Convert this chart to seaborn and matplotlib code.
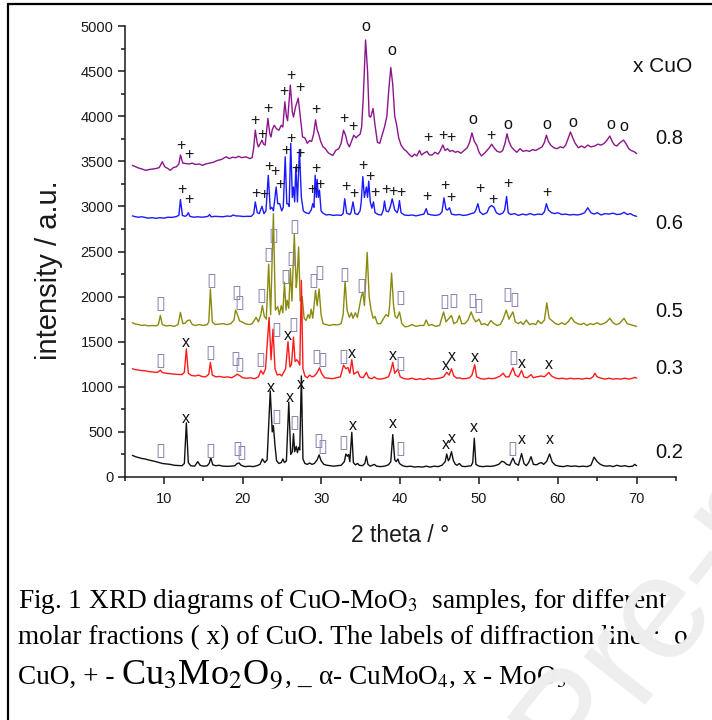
import matplotlib
matplotlib.use("Agg")
import matplotlib.pyplot as plt
from matplotlib.lines import Line2D
import numpy as np
import pandas as pd
import seaborn as sns

# ---------------------------------------------------------------------------
# XRD patterns (2 theta in degrees, intensity in a.u., already offset)
# ---------------------------------------------------------------------------
pattern_02 = [
    (6.0, 240), (6.4, 225), (6.8, 215), (7.2, 205), (7.6, 200), (8.0, 190), (8.5, 180), (9.0, 170),
    (9.4, 160), (9.8, 150), (10.3, 145), (10.8, 140), (11.3, 130), (11.8, 128), (12.3, 125), (12.6, 150),
    (12.85, 600), (13.1, 160), (13.4, 125), (13.9, 120), (14.3, 170), (14.6, 130), (15.0, 120), (15.5, 125),
    (15.75, 150), (15.95, 215), (16.2, 135), (16.6, 125), (17.0, 130), (17.5, 120), (18.0, 118), (18.5, 120),
    (19.0, 125), (19.3, 150), (19.55, 155), (19.8, 130), (20.3, 115), (20.8, 120), (21.3, 115), (21.8, 125),
    (22.2, 140), (22.5, 200), (22.8, 160), (23.1, 190), (23.5, 955), (23.75, 500), (23.9, 570), (24.1, 350),
    (24.3, 180), (24.6, 150), (24.9, 160), (25.1, 200), (25.3, 160), (25.55, 180), (25.85, 830), (26.1, 250),
    (26.3, 280), (26.45, 480), (26.6, 280), (26.8, 340), (26.95, 270), (27.1, 330), (27.25, 300), (27.45, 1120),
    (27.65, 200), (27.9, 150), (28.2, 140), (28.5, 155), (28.8, 140), (29.1, 150), (29.45, 190), (29.7, 245),
    (29.95, 180), (30.3, 140), (30.7, 130), (31.1, 125), (31.5, 120), (32.0, 125), (32.5, 130), (32.9, 170),
    (33.1, 255), (33.3, 230), (33.45, 250), (33.6, 170), (33.85, 495), (34.05, 160), (34.3, 135), (34.6, 150),
    (34.8, 130), (35.2, 125), (35.5, 150), (35.7, 230), (35.9, 140), (36.2, 120), (36.7, 140), (37.0, 120),
    (37.5, 115), (38.0, 120), (38.5, 135), (38.8, 170), (39.05, 470), (39.3, 190), (39.5, 170), (39.7, 200),
    (39.9, 150), (40.3, 125), (40.8, 115), (41.3, 120), (41.8, 110), (42.3, 115), (42.8, 110), (43.3, 120),
    (43.8, 110), (44.3, 120), (44.8, 115), (45.3, 130), (45.7, 170), (45.9, 255), (46.1, 180), (46.25, 200),
    (46.5, 280), (46.75, 180), (47.0, 140), (47.2, 130), (47.5, 150), (47.8, 120), (48.2, 115), (48.6, 120),
    (49.0, 125), (49.2, 160), (49.4, 430), (49.6, 140), (50.0, 120), (50.5, 115), (51.0, 120), (51.5, 118),
    (52.0, 125), (52.5, 140), (52.9, 175), (53.2, 165), (53.5, 140), (53.9, 130), (54.3, 210), (54.6, 150),
    (55.0, 130), (55.4, 260), (55.7, 150), (56.0, 125), (56.3, 160), (56.6, 225), (56.9, 140), (57.3, 135),
    (57.6, 150), (57.9, 160), (58.2, 140), (58.6, 175), (58.95, 255), (59.3, 165), (59.7, 130), (60.2, 120),
    (60.7, 115), (61.2, 125), (61.7, 118), (62.2, 122), (62.7, 115), (63.2, 120), (63.7, 115), (64.2, 130),
    (64.6, 220), (65.0, 170), (65.4, 140), (65.8, 125), (66.2, 120), (66.6, 125), (67.0, 115), (67.5, 130),
    (68.0, 118), (68.5, 125), (69.0, 115), (69.5, 120), (69.75, 140), (70.0, 125),
]

pattern_03 = [
    (6.0, 1200), (6.4, 1190), (6.8, 1185), (7.2, 1180), (7.6, 1178), (8.0, 1170), (8.5, 1165), (9.0, 1160),
    (9.3, 1165), (9.55, 1185), (9.8, 1158), (10.3, 1150), (10.8, 1145), (11.3, 1140), (11.8, 1138), (12.3, 1135),
    (12.6, 1160), (12.85, 1420), (13.1, 1150), (13.5, 1125), (14.0, 1120), (14.4, 1130), (14.8, 1115), (15.3, 1110),
    (15.7, 1140), (15.9, 1270), (16.15, 1130), (16.6, 1110), (17.1, 1115), (17.6, 1105), (18.1, 1110), (18.6, 1100),
    (19.0, 1120), (19.3, 1140), (19.6, 1125), (20.0, 1100), (20.5, 1095), (21.0, 1100), (21.5, 1090), (22.0, 1110),
    (22.3, 1180), (22.6, 1140), (22.9, 1200), (23.35, 1770), (23.6, 1300), (23.85, 1640), (24.1, 1200), (24.4, 1130),
    (24.7, 1140), (24.95, 1120), (25.2, 1160), (25.45, 1200), (25.75, 1500), (26.0, 1220), (26.2, 1250), (26.45, 1550),
    (26.65, 1280), (26.85, 1300), (27.05, 1280), (27.25, 1240), (27.45, 2180), (27.65, 1200), (27.9, 1120), (28.2, 1100),
    (28.5, 1130), (28.8, 1110), (29.1, 1120), (29.4, 1150), (29.75, 1210), (30.0, 1150), (30.4, 1100), (30.9, 1095),
    (31.4, 1090), (31.9, 1100), (32.4, 1110), (32.8, 1240), (33.1, 1200), (33.35, 1215), (33.6, 1150), (33.85, 1300),
    (34.1, 1140), (34.6, 1170), (34.9, 1110), (35.3, 1100), (35.7, 1160), (36.0, 1100), (36.4, 1090), (36.7, 1110),
    (37.0, 1090), (37.5, 1085), (38.0, 1095), (38.5, 1110), (38.8, 1180), (39.05, 1270), (39.3, 1150), (39.7, 1195),
    (40.0, 1110), (40.5, 1090), (41.0, 1085), (41.5, 1095), (42.0, 1080), (42.5, 1090), (43.0, 1080), (43.5, 1095),
    (44.0, 1085), (44.5, 1090), (45.0, 1095), (45.5, 1110), (45.9, 1160), (46.2, 1130), (46.5, 1200), (46.8, 1120),
    (47.2, 1095), (47.5, 1100), (47.8, 1090), (48.3, 1090), (48.8, 1100), (49.1, 1130), (49.45, 1245), (49.7, 1110),
    (50.2, 1090), (50.7, 1085), (51.2, 1095), (51.7, 1090), (52.2, 1100), (52.7, 1120), (53.05, 1150), (53.4, 1110),
    (53.8, 1110), (54.3, 1210), (54.6, 1130), (55.0, 1110), (55.4, 1180), (55.7, 1110), (56.1, 1100), (56.6, 1135),
    (56.9, 1100), (57.3, 1110), (57.9, 1120), (58.3, 1110), (58.85, 1160), (59.2, 1120), (59.6, 1100), (60.1, 1090),
    (60.6, 1095), (61.1, 1085), (61.6, 1095), (62.1, 1088), (62.6, 1092), (63.1, 1085), (63.6, 1095), (64.1, 1090),
    (64.45, 1110), (64.7, 1150), (65.0, 1110), (65.5, 1095), (66.0, 1085), (66.5, 1095), (67.0, 1085), (67.5, 1090),
    (68.0, 1085), (68.5, 1095), (69.0, 1085), (69.5, 1095), (69.8, 1105), (70.0, 1095),
]

pattern_05 = [
    (6.0, 1710), (6.4, 1695), (6.8, 1690), (7.2, 1680), (7.6, 1685), (8.0, 1675), (8.5, 1680), (9.0, 1675),
    (9.3, 1690), (9.55, 1790), (9.8, 1690), (10.3, 1675), (10.8, 1680), (11.3, 1670), (11.8, 1690), (12.1, 1825),
    (12.4, 1700), (12.7, 1705), (13.0, 1735), (13.3, 1740), (13.6, 1690), (14.0, 1680), (14.5, 1690), (15.0, 1680),
    (15.5, 1690), (15.7, 1720), (15.9, 2085), (16.15, 1720), (16.5, 1690), (17.0, 1695), (17.5, 1700), (18.0, 1690),
    (18.5, 1700), (18.9, 1740), (19.1, 1850), (19.35, 1800), (19.6, 1730), (19.9, 1720), (20.3, 1700), (20.8, 1690),
    (21.2, 1700), (21.5, 1740), (21.7, 1770), (22.0, 1720), (22.3, 1800), (22.5, 1900), (22.75, 1780), (23.0, 1750),
    (23.3, 2360), (23.55, 1800), (23.9, 2920), (24.15, 1850), (24.45, 1890), (24.65, 1800), (24.9, 1900), (25.1, 1820),
    (25.3, 2160), (25.5, 1850), (25.65, 1960), (25.85, 1870), (26.05, 2310), (26.25, 1950), (26.55, 2690), (26.8, 2100),
    (26.9, 2200), (27.1, 2550), (27.3, 1950), (27.55, 2000), (27.8, 1760), (28.05, 1735), (28.3, 1800), (28.5, 1760),
    (28.7, 1860), (28.9, 1760), (29.25, 2070), (29.45, 1900), (29.7, 2085), (29.95, 1800), (30.2, 1700), (30.6, 1690),
    (31.0, 1680), (31.5, 1690), (32.0, 1685), (32.5, 1700), (32.75, 1800), (33.0, 2170), (33.25, 1850), (33.55, 1770),
    (33.8, 1820), (34.0, 1760), (34.3, 1820), (34.55, 1770), (34.8, 1880), (35.05, 2000), (35.25, 2050), (35.45, 1900),
    (35.8, 2490), (36.05, 2000), (36.3, 1850), (36.55, 1760), (36.8, 1780), (37.1, 1700), (37.5, 1700), (37.9, 1760),
    (38.2, 1800), (38.5, 1780), (38.65, 1900), (38.9, 2260), (39.15, 1900), (39.35, 1780), (39.6, 1760), (39.9, 1830),
    (40.2, 1700), (40.6, 1665), (41.0, 1670), (41.5, 1690), (42.0, 1670), (42.5, 1680), (43.0, 1680), (43.3, 1740),
    (43.6, 1680), (44.0, 1690), (44.5, 1670), (45.0, 1680), (45.5, 1830), (45.8, 1720), (46.2, 1760), (46.5, 1790),
    (46.8, 1700), (47.2, 1720), (47.5, 1790), (47.8, 1700), (48.2, 1700), (48.6, 1740), (49.0, 1830), (49.3, 1760),
    (49.6, 1720), (50.0, 1750), (50.3, 1690), (50.7, 1700), (51.1, 1680), (51.5, 1735), (51.9, 1700), (52.3, 1680),
    (52.7, 1690), (53.1, 1760), (53.45, 1850), (53.8, 1750), (54.3, 1830), (54.6, 1720), (55.0, 1700), (55.3, 1720),
    (55.6, 1690), (56.0, 1740), (56.4, 1690), (56.8, 1700), (57.2, 1690), (57.5, 1735), (57.9, 1700), (58.3, 1740),
    (58.6, 1930), (58.9, 1760), (59.3, 1730), (59.7, 1700), (60.1, 1690), (60.5, 1710), (60.9, 1690), (61.3, 1720),
    (61.7, 1770), (62.1, 1720), (62.5, 1700), (62.9, 1690), (63.3, 1705), (63.7, 1680), (64.1, 1700), (64.5, 1690),
    (65.0, 1710), (65.4, 1690), (65.8, 1700), (66.2, 1720), (66.6, 1760), (67.0, 1710), (67.4, 1690), (67.8, 1700),
    (68.4, 1760), (68.8, 1700), (69.2, 1690), (69.6, 1680), (70.0, 1670),
]

pattern_06 = [
    (6.0, 2895), (6.4, 2885), (6.8, 2880), (7.2, 2885), (7.6, 2878), (8.0, 2870), (8.5, 2875), (9.0, 2868),
    (9.5, 2875), (10.0, 2870), (10.5, 2880), (11.0, 2878), (11.5, 2885), (11.9, 2900), (12.1, 3075), (12.35, 2900),
    (12.7, 2890), (12.9, 2900), (13.1, 2930), (13.3, 2890), (13.8, 2880), (14.3, 2885), (14.8, 2880), (15.3, 2885),
    (15.6, 2890), (15.8, 2910), (16.0, 2885), (16.5, 2890), (17.0, 2888), (17.5, 2885), (18.0, 2893), (18.5, 2890),
    (18.8, 2905), (19.1, 2895), (19.6, 2893), (20.1, 2888), (20.6, 2890), (21.1, 2890), (21.4, 2920), (21.6, 3050),
    (21.85, 2930), (22.1, 2920), (22.45, 3000), (22.7, 2920), (22.95, 2950), (23.25, 3345), (23.5, 2970), (23.7, 2990),
    (23.9, 2950), (24.25, 3215), (24.45, 3030), (24.7, 3030), (24.95, 2950), (25.15, 2990), (25.4, 3550), (25.6, 3030),
    (25.75, 3030), (25.9, 3000), (26.1, 3700), (26.3, 3100), (26.45, 3215), (26.6, 3050), (26.75, 3440), (26.95, 3050),
    (27.2, 3630), (27.45, 3100), (27.7, 2950), (28.0, 2930), (28.4, 2920), (28.7, 2960), (28.9, 3030), (29.05, 2990),
    (29.2, 3345), (29.35, 3100), (29.45, 3300), (29.6, 3100), (29.75, 3180), (29.95, 2950), (30.2, 2925), (30.6, 2905),
    (31.0, 2910), (31.5, 2900), (32.0, 2905), (32.5, 2900), (32.75, 2920), (32.95, 3085), (33.2, 2925), (33.6, 2910),
    (33.75, 2930), (34.0, 3050), (34.25, 2920), (34.6, 2910), (34.9, 2950), (35.05, 3050), (35.25, 3330), (35.45, 3100),
    (35.7, 3215), (35.85, 3100), (36.0, 3280), (36.2, 3050), (36.4, 2980), (36.6, 3050), (36.8, 2930), (37.2, 2910),
    (37.6, 2905), (37.85, 2960), (38.0, 3060), (38.2, 2950), (38.5, 2940), (38.75, 3000), (38.98, 3085), (39.3, 2960),
    (39.6, 2930), (39.75, 2970), (39.9, 3065), (40.1, 2930), (40.5, 2905), (41.0, 2900), (41.5, 2905), (42.0, 2895),
    (42.5, 2905), (43.0, 2915), (43.3, 2975), (43.5, 2915), (44.0, 2905), (44.5, 2900), (45.0, 2910), (45.3, 2940),
    (45.55, 3095), (45.8, 2970), (46.0, 2960), (46.25, 2985), (46.5, 2915), (47.0, 2905), (47.5, 2910), (48.0, 2900),
    (48.5, 2905), (49.0, 2920), (49.4, 2930), (49.6, 2960), (49.85, 3030), (50.1, 2940), (50.5, 2910), (51.0, 2930),
    (51.3, 2990), (51.6, 3010), (51.9, 2990), (52.2, 2930), (52.6, 2910), (53.0, 2925), (53.25, 2960), (53.5, 3110),
    (53.7, 2930), (54.0, 2910), (54.5, 2920), (55.0, 2900), (55.5, 2915), (56.0, 2905), (56.5, 2920), (57.0, 2905),
    (57.5, 2915), (58.0, 2910), (58.3, 2940), (58.55, 3030), (58.8, 2960), (59.2, 2930), (59.6, 2920), (60.0, 2930),
    (60.5, 2910), (61.0, 2915), (61.5, 2905), (62.0, 2910), (62.5, 2905), (63.0, 2915), (63.4, 2930), (63.8, 2985),
    (64.2, 2930), (64.6, 2915), (65.0, 2930), (65.5, 2905), (66.0, 2920), (66.5, 2915), (67.0, 2925), (67.5, 2910),
    (68.0, 2915), (68.4, 2935), (68.8, 2910), (69.2, 2920), (69.6, 2900), (70.0, 2890),
]

pattern_08 = [
    (6.0, 3455), (6.4, 3440), (6.8, 3425), (7.2, 3415), (7.7, 3400), (8.2, 3410), (8.6, 3415), (9.0, 3420),
    (9.4, 3430), (9.8, 3495), (10.1, 3440), (10.5, 3420), (10.8, 3400), (11.2, 3430), (11.6, 3440), (11.9, 3470),
    (12.1, 3570), (12.4, 3480), (12.8, 3475), (13.2, 3470), (13.6, 3480), (14.0, 3465), (14.5, 3470), (14.9, 3455),
    (15.3, 3470), (15.8, 3480), (16.3, 3490), (16.8, 3510), (17.3, 3520), (17.9, 3550), (18.3, 3530), (18.7, 3545),
    (19.1, 3540), (19.5, 3555), (19.9, 3540), (20.4, 3550), (20.9, 3530), (21.2, 3540), (21.4, 3650), (21.6, 3845),
    (21.85, 3700), (22.0, 3660), (22.25, 3700), (22.45, 3735), (22.65, 3690), (22.85, 3680), (23.2, 3975), (23.45, 3800),
    (23.6, 3770), (23.75, 3850), (24.0, 3900), (24.3, 3860), (24.6, 3845), (24.9, 3900), (25.1, 3880), (25.35, 4160),
    (25.55, 4000), (25.7, 3950), (26.05, 4345), (26.3, 4050), (26.45, 3990), (26.7, 4100), (27.05, 4200), (27.3, 4000),
    (27.6, 3770), (27.9, 3760), (28.2, 3700), (28.5, 3730), (28.75, 3720), (29.0, 3800), (29.25, 3960), (29.45, 3850),
    (29.65, 3800), (29.9, 3720), (30.2, 3660), (30.5, 3640), (30.8, 3600), (31.1, 3580), (31.45, 3565), (31.8, 3620),
    (32.2, 3640), (32.5, 3700), (32.8, 3845), (33.05, 3790), (33.3, 3700), (33.55, 3660), (33.8, 3720), (34.1, 3790),
    (34.4, 3760), (34.6, 3780), (34.9, 3800), (35.1, 3880), (35.3, 4200), (35.6, 4845), (35.85, 4500), (36.05, 4000),
    (36.25, 3990), (36.55, 4085), (36.8, 3900), (37.1, 3710), (37.4, 3700), (37.7, 3790), (38.0, 3880), (38.3, 4000),
    (38.55, 4300), (38.8, 4540), (39.05, 4350), (39.3, 4000), (39.55, 3900), (39.8, 3760), (40.1, 3680), (40.4, 3640),
    (40.8, 3610), (41.2, 3570), (41.5, 3550), (41.8, 3580), (42.1, 3560), (42.45, 3620), (42.7, 3570), (43.0, 3590),
    (43.4, 3610), (43.7, 3570), (44.05, 3570), (44.4, 3600), (44.8, 3580), (45.1, 3620), (45.4, 3680), (45.7, 3620),
    (46.0, 3640), (46.3, 3610), (46.6, 3620), (47.0, 3600), (47.3, 3610), (47.7, 3590), (48.1, 3620), (48.5, 3650),
    (48.8, 3710), (49.1, 3815), (49.4, 3720), (49.7, 3680), (50.0, 3600), (50.3, 3560), (50.7, 3590), (51.0, 3620),
    (51.3, 3650), (51.6, 3690), (51.9, 3650), (52.3, 3610), (52.7, 3600), (53.0, 3620), (53.3, 3700), (53.55, 3805),
    (53.8, 3720), (54.1, 3660), (54.4, 3630), (54.8, 3600), (55.2, 3640), (55.6, 3610), (56.0, 3620), (56.4, 3610),
    (56.8, 3630), (57.2, 3620), (57.6, 3640), (58.0, 3660), (58.3, 3710), (58.55, 3790), (58.8, 3720), (59.1, 3680),
    (59.5, 3650), (59.9, 3640), (60.3, 3660), (60.7, 3650), (61.0, 3680), (61.3, 3750), (61.6, 3825), (61.9, 3760),
    (62.2, 3700), (62.6, 3650), (63.0, 3670), (63.4, 3650), (63.8, 3680), (64.2, 3660), (64.7, 3670), (65.1, 3690),
    (65.5, 3680), (65.9, 3700), (66.2, 3730), (66.6, 3780), (66.9, 3720), (67.2, 3680), (67.5, 3670), (67.8, 3700),
    (68.1, 3720), (68.35, 3735), (68.7, 3690), (69.0, 3640), (69.3, 3620), (69.6, 3610), (69.8, 3600), (70.0, 3585),
]

fractions = ["0.2", "0.3", "0.5", "0.6", "0.8"]
patterns = [pattern_02, pattern_03, pattern_05, pattern_06, pattern_08]
colors = ["#111111", "#ff1a1a", "#8a8a10", "#1a1aff", "#8b168b"]

# Phase labels above the diffraction lines: (2 theta, intensity) of each label
cuo_labels = [(35.59, 4993), (38.98, 4733), (49.27, 3963), (53.67, 3907), (58.63, 3907),
              (61.86, 3930), (66.72, 3907), (68.41, 3889)]
cu3mo2o9_labels = [
    (12.17, 3678), (13.2, 3578), (21.6, 3948), (22.46, 3796), (23.14, 4085), (25.17, 4270),
    (26.06, 4452), (27.2, 4319), (29.33, 4074), (32.83, 3974), (33.98, 3881), (43.5, 3763),
    (45.41, 3789), (46.39, 3763), (51.56, 3789),
    (12.3, 3185), (13.2, 3078), (21.7, 3141), (22.63, 3130), (23.3, 3444), (24.1, 3392),
    (24.66, 3244), (25.42, 3615), (26.1, 3748), (26.78, 3422), (27.2, 3592), (28.82, 3192),
    (29.33, 3419), (29.75, 3244), (33.05, 3226), (34.1, 3141), (35.25, 3456), (36.19, 3337),
    (36.82, 3152), (38.13, 3189), (39.06, 3167), (40.04, 3152), (43.43, 3111), (45.63, 3233),
    (46.48, 3096), (50.08, 3196), (51.77, 3078), (53.67, 3259), (58.63, 3159),
]
cumoo4_labels = [
    (9.54, 1919), (16.06, 2178), (19.24, 2037), (19.58, 1926), (22.34, 2011), (23.31, 2456),
    (23.94, 2667), (25.42, 2222), (26.15, 2419), (26.57, 2770), (29.02, 2178), (29.75, 2259),
    (32.96, 2244), (35.04, 2115), (40.04, 1990), (45.54, 1944), (46.68, 1956), (49.1, 1956),
    (49.86, 1900), (53.6, 2019), (54.52, 1967),
    (9.54, 1289), (15.9, 1370), (19.07, 1307), (19.58, 1244), (22.2, 1296), (24.24, 1630),
    (26.48, 1685), (29.33, 1333), (30.09, 1296), (32.71, 1333), (40.04, 1252), (54.3, 1319),
    (9.54, 289), (15.86, 289), (19.37, 307), (19.79, 263), (24.24, 667), (26.53, 604),
    (29.66, 400), (30.17, 333), (32.83, 374), (40.04, 315), (54.23, 307),
]
moo3_labels = [
    (12.8, 1493), (25.72, 1567), (33.86, 1374), (39.06, 1344), (45.72, 1233), (46.6, 1337),
    (49.44, 1326), (55.45, 1259), (58.9, 1244),
    (12.8, 648), (23.52, 993), (25.93, 881), (27.42, 1030), (33.98, 567), (39.06, 593),
    (45.84, 363), (46.56, 430), (49.31, 548), (55.37, 419), (58.97, 411),
]

# Position of the x(CuO) value written right of each pattern
fraction_label_y = [271, 1203, 1834, 2814, 3752]

# ---------------------------------------------------------------------------
frames = []
for frac, pat in zip(fractions, patterns):
    arr = np.array(pat, dtype=float)
    frames.append(pd.DataFrame({"two_theta": arr[:, 0], "intensity": arr[:, 1], "x_CuO": frac}))
df = pd.concat(frames, ignore_index=True)

sns.set_style("ticks")
plt.rcParams["font.family"] = ["Liberation Sans", "DejaVu Sans"]
plt.rcParams["mathtext.fontset"] = "stix"

W, H = 712, 720
fig = plt.figure(figsize=(W / 100, H / 100), dpi=100)
fig.patch.set_facecolor("white")


def px(x, y):
    return x / W, 1 - y / H


ax_l, ax_r, ax_t, ax_b = 124.5, 676.0, 26.0, 477.0
ax = fig.add_axes([ax_l / W, 1 - ax_b / H, (ax_r - ax_l) / W, (ax_b - ax_t) / H])
ax.set_facecolor("white")

sns.lineplot(data=df, x="two_theta", y="intensity", hue="x_CuO",
             hue_order=["0.8", "0.6", "0.5", "0.3", "0.2"],
             palette=dict(zip(fractions, colors)), estimator=None, sort=False,
             legend=False, linewidth=1.0, ax=ax)

ax.set_xlim(5, 75)
ax.set_ylim(0, 5000)
ax.set_xticks(np.arange(10, 71, 10))
ax.set_xticks(np.arange(5, 76, 5), minor=True)
ax.set_yticks(np.arange(0, 5001, 500))
ax.set_yticks(np.arange(0, 5001, 250), minor=True)
for side in ("top", "right"):
    ax.spines[side].set_visible(False)
for side in ("left", "bottom"):
    ax.spines[side].set_linewidth(1.1)
    ax.spines[side].set_color("#1a1a1a")
ax.tick_params(axis="both", which="major", direction="out", length=5, width=1.1,
               labelsize=10.5, color="#1a1a1a", labelcolor="#1a1a1a")
ax.tick_params(axis="both", which="minor", direction="out", length=3, width=1.1, color="#1a1a1a")
ax.tick_params(axis="x", which="major", pad=6)
ax.tick_params(axis="y", which="major", pad=3)

ax.set_xlabel("2 theta / °", fontsize=16.5, color="#1a1a1a")
ax.set_ylabel("intensity / a.u.", fontsize=21, color="#1a1a1a")
ax.xaxis.set_label_coords(0.4995, -0.104)
ax.yaxis.set_label_coords(-0.112, 0.459)

# phase markers
lab_kw = dict(ha="center", va="center", fontsize=11.5, color="#111111", clip_on=False, zorder=5)
for x, y in cuo_labels:
    ax.text(x, y, "o", **lab_kw)
for x, y in cu3mo2o9_labels:
    ax.text(x, y, "+", **lab_kw)
for x, y in moo3_labels:
    ax.text(x, y, "x", **lab_kw)
for x, y in cumoo4_labels:
    ax.text(x, y, "\u25af", ha="center", va="center", fontsize=13, color="#8a86b4",
            family="DejaVu Sans", clip_on=False, zorder=5)

# sample composition labels
ax.text(73.3, 4548, "x CuO", ha="center", va="center", fontsize=15, color="#111111", clip_on=False)
for frac, y in zip(fractions, fraction_label_y):
    ax.text(74.15, y, frac, ha="center", va="center", fontsize=14.5, color="#111111", clip_on=False)

# caption
serif = ["Liberation Serif", "DejaVu Serif"]
CAP = 19.6
cap_kw = dict(family=serif, fontsize=CAP, color="black", va="baseline")
fig.text(*px(18, 608), "Fig. 1 XRD diagrams of CuO-MoO$_3$  samples, for different", **cap_kw)
fig.text(*px(18, 644), "molar fractions ( x) of CuO. The labels of diffraction lines:  o-", **cap_kw)

renderer = fig.canvas.get_renderer()
pieces = [("CuO, + - ", CAP), ("Cu$_3$Mo$_2$O$_9$", 26), (", _ \u03b1- CuMoO$_4$, x - MoO$_3$", CAP)]
x_cur = 18
for txt, size in pieces:
    t = fig.text(*px(x_cur, 684), txt, family=serif, fontsize=size, color="black", va="baseline")
    x_cur = t.get_window_extent(renderer).x1

# frame around the figure panel
fig.add_artist(Line2D([8 / W, 8 / W], [0, 1 - 4 / H], transform=fig.transFigure, color="black", lw=1.6))
fig.add_artist(Line2D([8 / W, 1], [1 - 4 / H, 1 - 4 / H], transform=fig.transFigure, color="black", lw=1.6))

# watermark
fig.text(*px(575, 780), "Pre-proof", rotation=52, rotation_mode="anchor", ha="left", va="baseline",
         fontsize=105, color="#eeeeee", family=["Liberation Sans"], zorder=10)

fig.savefig("out.png", dpi=100, facecolor="white")
